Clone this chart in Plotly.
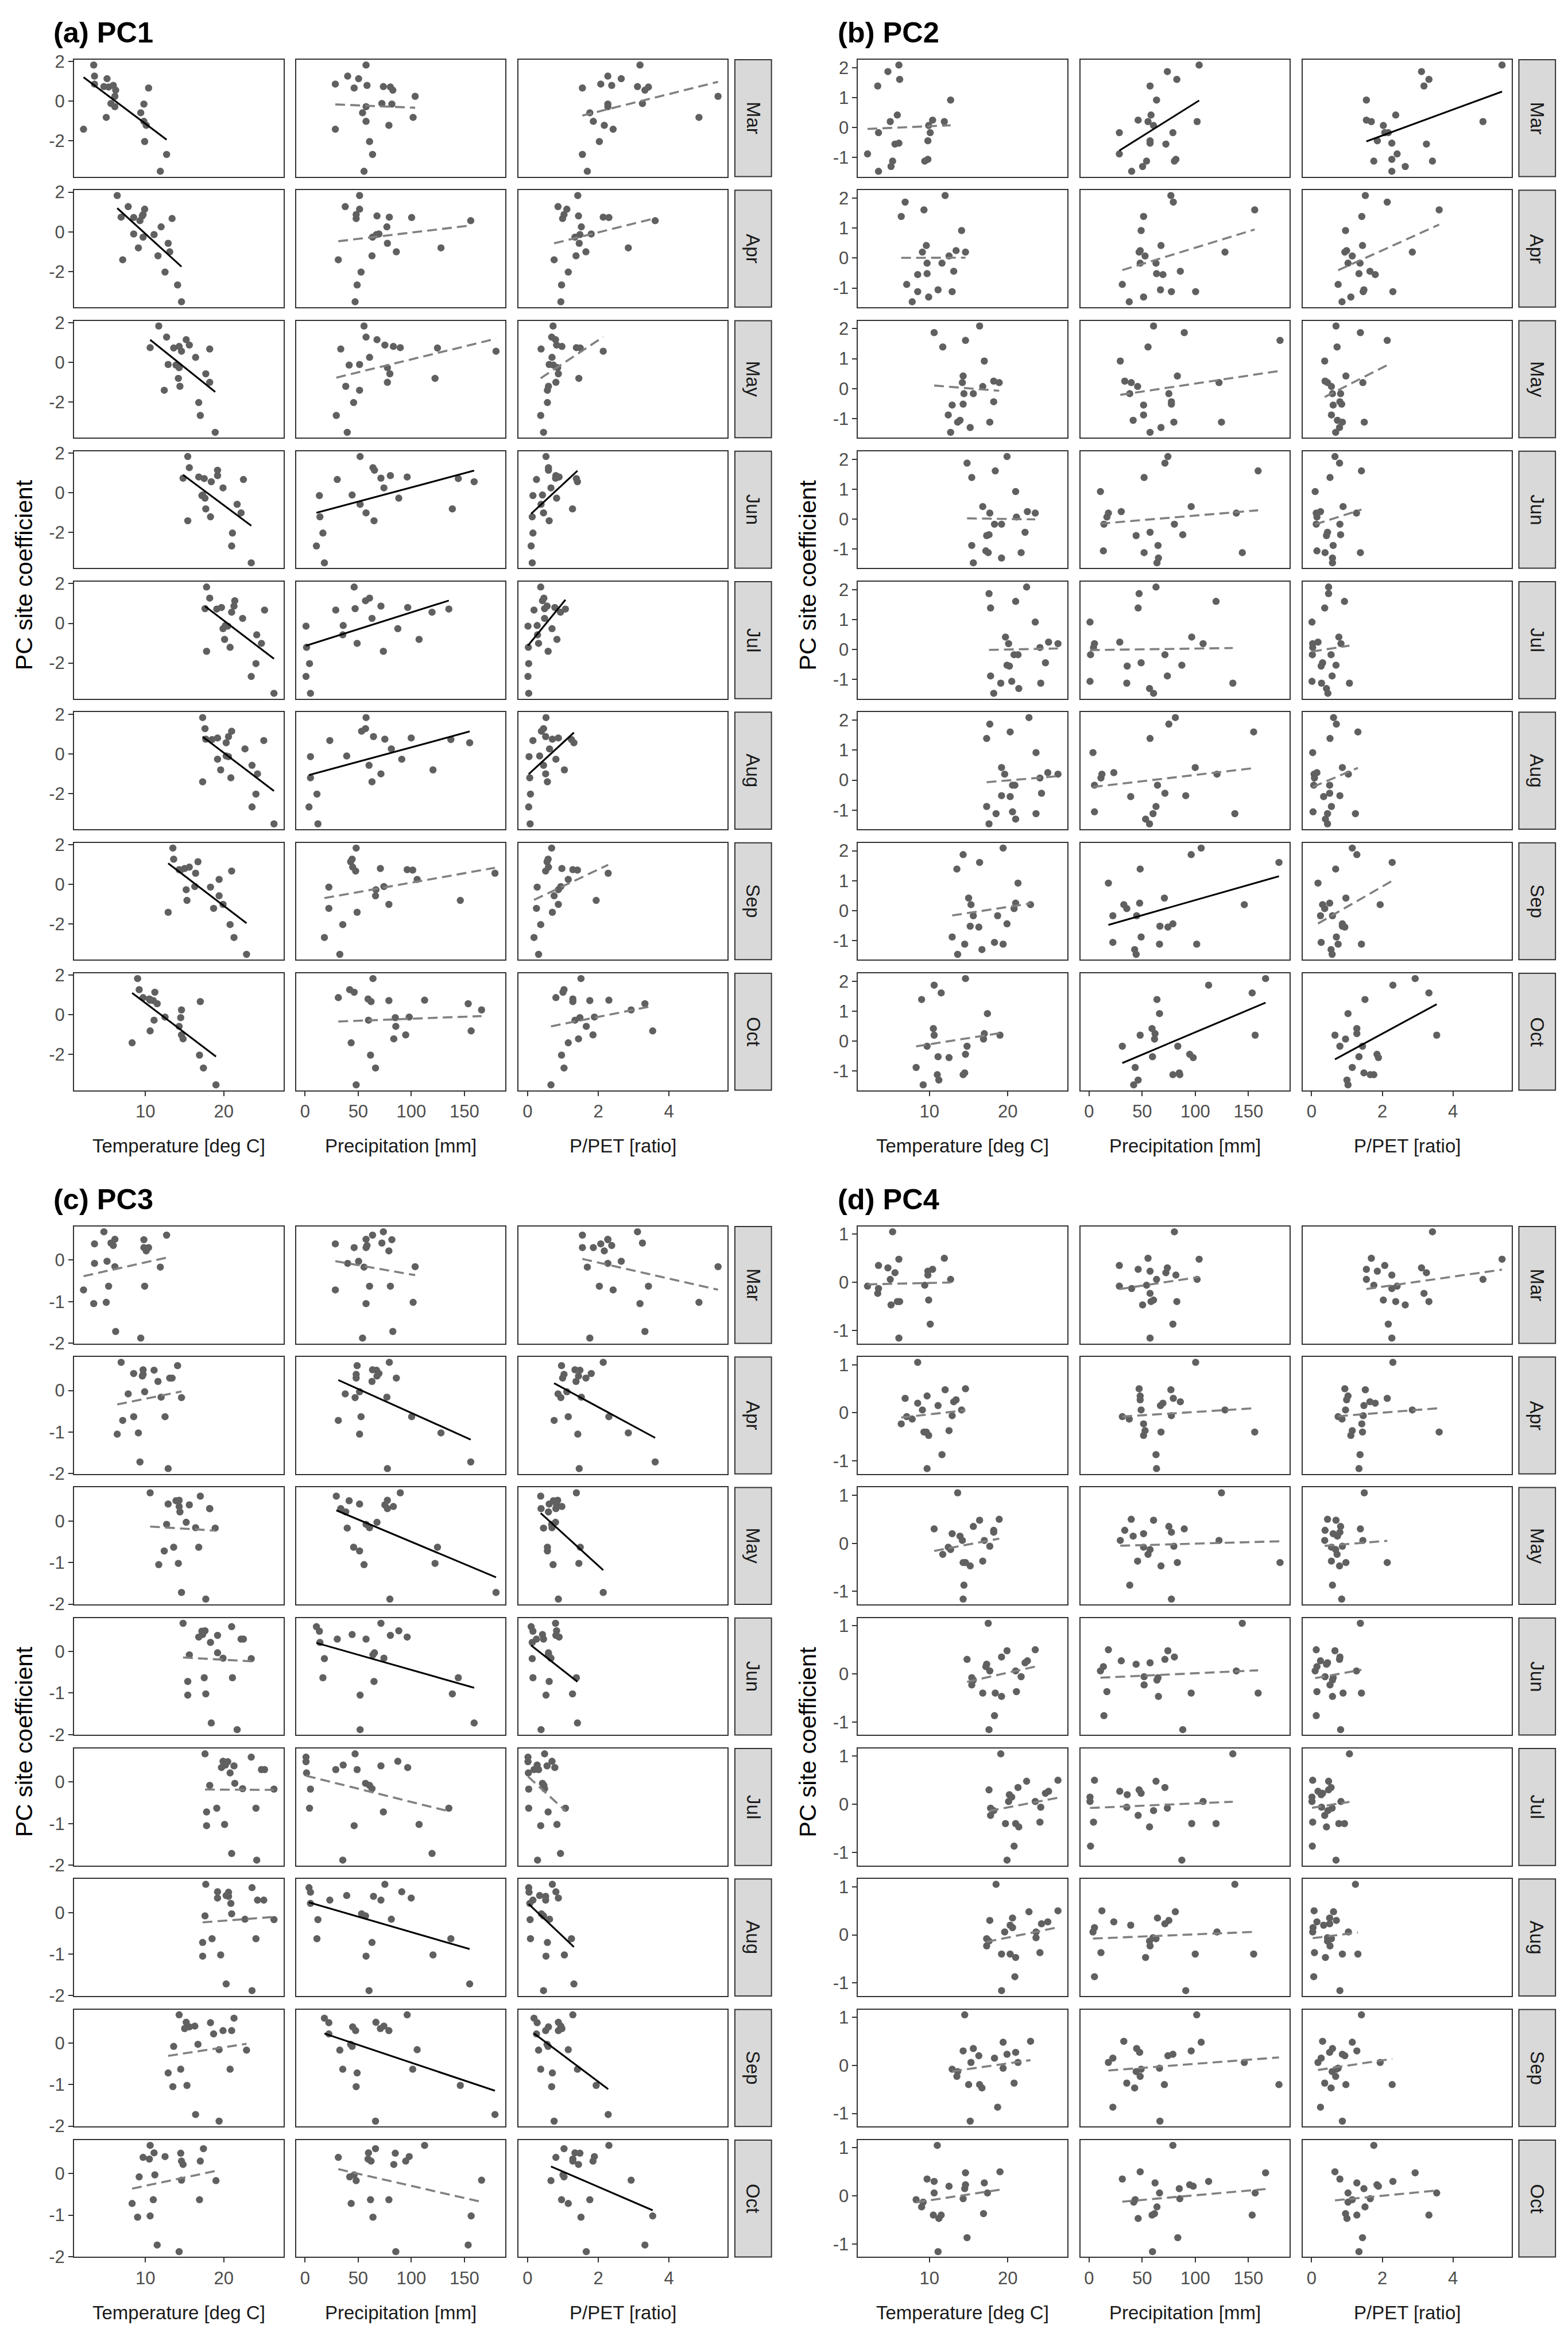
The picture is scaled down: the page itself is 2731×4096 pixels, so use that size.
import numpy as np
import plotly.graph_objects as go

# ---------------- data (21 sites, S1..S21) ----------------
months = ["Mar", "Apr", "May", "Jun", "Jul", "Aug", "Sep", "Oct"]
var_titles = ["Temperature [deg C]", "Precipitation [mm]", "P/PET [ratio]"]
panel_titles = ["(a) PC1", "(b) PC2", "(c) PC3", "(d) PC4"]

pc1 = [1.83, 1.27, 1.14, 0.87, 0.80, 0.74, 0.72, 0.67, 0.56, 0.25, -0.11,
       -0.14, -0.27, -0.58, -0.81, -1.01, -1.21, -1.41, -2.03, -2.68, -3.53]
pc2 = [1.39, -1.46, -1.30, -0.17, 0.42, 1.87, -1.12, 0.25, 1.61, 2.09, -0.55,
       -1.06, -0.52, -1.12, 0.20, -0.44, -0.17, -0.88, 0.07, 0.92, 0.20]
pc3 = [-1.05, -0.08, -0.03, 0.39, 0.35, 0.68, -0.63, 0.30, -1.72, -0.16, 0.41,
       0.49, 0.50, -1.88, -1.02, 0.30, 0.22, -0.72, -0.63, 0.60, -0.17]
pc4 = [-0.23, -0.13, -0.47, 0.35, -0.40, 0.30, 1.05, 0.27, -0.40, 0.48, 0.20,
       0.15, -1.16, -0.06, 0.06, 0.23, -0.87, -0.08, -0.37, 0.06, 0.50]

temp_mar = [3.4, 3.5, 5.1, 3.5, 5.9, 4.7, 5.3, 10.4, 6.2, 6.1, 5.6, 9.8, 6.1, 9.4, 5.0, 9.8, 10.1, 2.1, 9.9, 12.7, 11.9]
temp_apr = [6.4, 7.8, 9.9, 9.7, 9.6, 6.9, 8.5, 13.4, 9.3, 12.0, 8.5, 11.1, 9.7, 12.9, 9.1, 13.1, 11.6, 7.1, 12.5, 14.1, 14.6]
temp_may = [11.7, 12.7, 15.2, 15.6, 14.3, 10.6, 13.6, 18.2, 14.6, 16.4, 12.9, 13.9, 14.3, 17.7, 14.2, 18.2, 14.4, 12.4, 16.8, 17.0, 18.9]
temp_jun = [15.4, 15.6, 19.2, 19.2, 16.8, 14.8, 17.5, 22.5, 18.4, 19.9, 17.3, 17.2, 17.6, 21.7, 17.7, 22.2, 18.3, 15.4, 21.1, 21.0, 23.5]
temp_jul = [17.8, 18.2, 21.4, 21.3, 19.7, 17.6, 19.1, 25.2, 21.0, 22.4, 20.2, 20.5, 19.9, 24.2, 20.1, 24.8, 20.8, 17.8, 24.1, 23.5, 26.4]
temp_aug = [17.3, 17.6, 21.0, 20.6, 19.2, 17.7, 18.5, 25.1, 20.3, 22.7, 20.3, 20.6, 19.2, 23.6, 19.6, 24.3, 20.9, 17.3, 24.1, 23.6, 26.4]
temp_sep = [13.5, 13.6, 16.7, 15.6, 15.0, 14.3, 14.5, 21.0, 16.4, 19.4, 16.3, 18.3, 15.2, 19.4, 15.3, 19.9, 18.7, 12.9, 20.8, 21.3, 22.9]
temp_oct = [9.0, 9.2, 11.2, 9.7, 10.5, 10.6, 11.0, 17.0, 11.5, 14.6, 12.5, 14.5, 11.1, 14.3, 10.6, 14.6, 14.8, 8.3, 16.9, 17.4, 19.0]

precip_mar = [57.4, 40.1, 50.4, 28.5, 58.3, 73.7, 80.3, 46.2, 82.6, 103.6, 72.3, 81.7, 57.4, 54.1, 101.7, 57.4, 78.9, 28.5, 60.7, 63.5, 55.5]
precip_apr = [51.3, 37.8, 51.3, 48.1, 67.7, 79.3, 100.3, 48.1, 155.9, 77.0, 69.5, 67.2, 63.5, 77.5, 127.9, 85.9, 63.0, 31.3, 52.7, 49.0, 47.1]
precip_may = [55.5, 57.4, 67.7, 75.1, 83.1, 89.6, 124.6, 33.6, 179.7, 60.7, 51.3, 41.5, 77.5, 79.8, 122.3, 77.5, 38.3, 51.3, 45.7, 29.4, 39.7]
precip_jun = [51.8, 63.9, 65.3, 80.3, 96.1, 71.4, 144.2, 30.3, 159.1, 74.2, 44.3, 13.5, 88.2, 51.8, 138.6, 57.4, 14.0, 64.9, 16.8, 10.7, 18.2]
precip_jul = [46.2, 60.7, 56.9, 71.4, 96.6, 47.1, 135.3, 28.9, 119.5, 63.0, 35.9, 0.9, 87.3, 35.5, 107.3, 49.0, 1.4, 73.7, 4.2, 0.9, 5.1]
precip_aug = [57.4, 56.9, 53.2, 64.4, 99.9, 75.1, 137.2, 23.3, 154.9, 81.2, 39.2, 5.1, 91.0, 60.2, 120.4, 71.4, 5.1, 63.0, 11.2, 3.7, 12.1]
precip_sep = [48.1, 44.3, 42.9, 44.8, 70.9, 96.1, 101.3, 47.6, 178.7, 105.5, 74.2, 22.4, 66.7, 66.3, 146.1, 78.9, 22.4, 49.0, 35.5, 18.2, 32.7]
precip_oct = [63.9, 42.0, 46.2, 31.3, 59.3, 112.5, 78.9, 62.1, 153.5, 166.1, 98.0, 84.9, 59.7, 85.4, 156.3, 94.7, 83.5, 43.4, 61.6, 66.3, 48.1]

ppet_mar = [3.18, 2.27, 2.65, 2.07, 2.38, 3.11, 3.42, 1.55, 3.32, 5.39, 3.25, 2.27, 2.27, 1.76, 4.85, 1.86, 2.17, 2.42, 2.03, 1.55, 1.69]
ppet_apr = [1.42, 0.86, 1.11, 1.03, 1.44, 2.14, 2.30, 0.99, 3.61, 1.52, 1.80, 1.48, 1.34, 1.46, 2.85, 1.65, 1.37, 0.75, 1.15, 0.96, 0.94]
ppet_may = [0.72, 0.68, 0.79, 0.82, 0.97, 1.38, 1.49, 0.38, 2.14, 0.69, 0.61, 0.73, 0.85, 0.87, 1.45, 0.80, 0.59, 0.56, 0.56, 0.37, 0.45]
ppet_jun = [0.52, 0.59, 0.59, 0.80, 0.89, 0.79, 1.38, 0.25, 1.41, 0.66, 0.42, 0.15, 0.82, 0.38, 1.27, 0.45, 0.13, 0.61, 0.15, 0.10, 0.13]
ppet_jul = [0.37, 0.46, 0.42, 0.55, 0.77, 0.48, 1.07, 0.18, 0.93, 0.48, 0.27, 0.01, 0.69, 0.28, 0.83, 0.31, 0.02, 0.58, 0.03, 0.01, 0.03]
ppet_aug = [0.52, 0.45, 0.39, 0.51, 0.87, 0.70, 1.24, 0.15, 1.31, 0.62, 0.34, 0.04, 0.80, 0.45, 1.04, 0.51, 0.06, 0.56, 0.08, 0.03, 0.07]
ppet_sep = [0.68, 0.58, 0.55, 0.59, 0.97, 1.28, 1.41, 0.51, 2.28, 1.15, 0.94, 0.27, 0.87, 0.75, 1.94, 0.87, 0.25, 0.70, 0.37, 0.18, 0.31]
ppet_oct = [1.51, 1.03, 1.00, 0.80, 1.28, 2.30, 1.76, 1.28, 3.32, 2.93, 1.89, 1.48, 1.34, 1.66, 3.54, 1.85, 1.44, 1.15, 0.96, 1.03, 0.66]

# significance of the linear fit per month: T, P, R  (S = significant / solid, N = dashed)
sig_pc1 = ["SNN", "SNN", "SNN", "SSS", "SSS", "SSS", "SNN", "SNN"]
sig_pc2 = ["NSS", "NNN", "NNN", "NNN", "NNN", "NNN", "NSN", "NSS"]
sig_pc3 = ["NNN", "NSS", "NSS", "NSS", "NNN", "NSS", "NSS", "NNS"]
sig_pc4 = ["NNN", "NNN", "NNN", "NNN", "NNN", "NNN", "NNN", "NNN"]

x_ticks = [[10, 20], [0, 50, 100, 150], [0, 2, 4]]
y_ticks = [[-2, 0, 2], [-1, 0, 1, 2], [-2, -1, 0], [-1, 0, 1]]

# ---------------- assemble ----------------
temps = [temp_mar, temp_apr, temp_may, temp_jun, temp_jul, temp_aug, temp_sep, temp_oct]
precs = [precip_mar, precip_apr, precip_may, precip_jun, precip_jul, precip_aug, precip_sep, precip_oct]
ppets = [ppet_mar, ppet_apr, ppet_may, ppet_jun, ppet_jul, ppet_aug, ppet_sep, ppet_oct]
xvars = [temps, precs, ppets]
pcs = [pc1, pc2, pc3, pc4]
sigs = [sig_pc1, sig_pc2, sig_pc3, sig_pc4]


def expand(vals):
    lo, hi = min(vals), max(vals)
    d = (hi - lo) * 0.05
    return [lo - d, hi + d]


x_ranges = [expand([v for m in xv for v in m]) for xv in xvars]
y_ranges = [expand(p) for p in pcs]

W, H = 2731, 4096
REFW, REFH = 3000.0, 4500.0
FONT = "Liberation Sans, Arial, Helvetica, sans-serif"


def fx(x):
    return x / REFW


def fy(y):
    return 1 - y / REFH


col_x = [(141.6, 542.4), (567.3, 967.2), (992.0, 1392.0)]
strip_x = (1406.0, 1476.0)
row_top0, row_pitch, row_h = 99.6, 251.6, 225.4
panel_off = [(0, 0), (1500, 0), (0, 2249.4), (1500, 2249.4)]

POINT = "#606060"
EDGE = "#333333"
fig = go.Figure()
layout = dict(
    width=W, height=H, margin=dict(l=0, r=0, t=0, b=0, pad=0),
    paper_bgcolor="white", plot_bgcolor="white", showlegend=False,
    font=dict(family=FONT, color="#1A1A1A"),
)
shapes, annotations = [], []

for p in range(4):
    ox, oy = panel_off[p]
    yv = pcs[p]
    for r in range(8):
        top = oy + row_top0 + row_pitch * r
        bot = top + row_h
        for c in range(3):
            n = p * 24 + r * 3 + c + 1
            xa, ya = f"xaxis{n}", f"yaxis{n}"
            x0, x1 = col_x[c]
            xv = xvars[c][r]
            layout[xa] = dict(
                domain=[fx(ox + x0), fx(ox + x1)], anchor=f"y{n}",
                range=x_ranges[c], showline=True, linecolor=EDGE, linewidth=2,
                mirror=True, showgrid=False, zeroline=False,
                ticks="outside" if r == 7 else "", ticklen=8, tickwidth=2, tickcolor=EDGE,
                showticklabels=(r == 7), tickvals=x_ticks[c],
                ticktext=[str(t) for t in x_ticks[c]],
                tickfont=dict(size=31, color="#4D4D4D", family=FONT),
            )
            layout[ya] = dict(
                domain=[fy(bot), fy(top)], anchor=f"x{n}",
                range=y_ranges[p], showline=True, linecolor=EDGE, linewidth=2,
                mirror=True, showgrid=False, zeroline=False,
                ticks="outside" if c == 0 else "", ticklen=8, tickwidth=2, tickcolor=EDGE,
                showticklabels=(c == 0), tickvals=y_ticks[p],
                ticktext=[str(t) for t in y_ticks[p]],
                tickfont=dict(size=31, color="#4D4D4D", family=FONT),
            )
            fig.add_trace(go.Scatter(
                x=xv, y=yv, mode="markers", xaxis=f"x{n}", yaxis=f"y{n}",
                marker=dict(size=12.5, color=POINT, line=dict(width=0)),
                hoverinfo="skip"))
            k, b = np.polyfit(np.array(xv), np.array(yv), 1)
            xs = [min(xv), max(xv)]
            ys = [k * xs[0] + b, k * xs[1] + b]
            solid = sigs[p][r][c] == "S"
            fig.add_trace(go.Scatter(
                x=xs, y=ys, mode="lines", xaxis=f"x{n}", yaxis=f"y{n}",
                line=dict(color="black" if solid else "#808080",
                          width=3.1 if solid else 3.6,
                          dash="solid" if solid else "17px,9px"),
                hoverinfo="skip"))
        # strip
        shapes.append(dict(type="rect", xref="paper", yref="paper",
                           x0=fx(ox + strip_x[0]), x1=fx(ox + strip_x[1]),
                           y0=fy(bot), y1=fy(top), fillcolor="#D9D9D9",
                           line=dict(color=EDGE, width=2), layer="below"))
        annotations.append(dict(xref="paper", yref="paper",
                                x=fx(ox + (strip_x[0] + strip_x[1]) / 2), y=fy((top + bot) / 2),
                                text=months[r], textangle=90, showarrow=False,
                                xanchor="center", yanchor="middle",
                                font=dict(size=33, color="#1A1A1A", family=FONT)))
    # panel title
    annotations.append(dict(xref="paper", yref="paper", x=fx(ox + 100), y=fy(oy + 47),
                            text="<b>" + panel_titles[p] + "</b>", showarrow=False,
                            xanchor="left", yanchor="middle",
                            font=dict(size=50.5, color="black", family=FONT)))
    # y title
    yc = oy + row_top0 + (row_pitch * 7 + row_h) / 2
    annotations.append(dict(xref="paper", yref="paper", x=fx(ox + 45), y=fy(yc),
                            text="PC site coefficient", textangle=-90, showarrow=False,
                            xanchor="center", yanchor="middle",
                            font=dict(size=41.5, color="black", family=FONT)))
    # x titles
    for c in range(3):
        annotations.append(dict(xref="paper", yref="paper",
                                x=fx(ox + (col_x[c][0] + col_x[c][1]) / 2), y=fy(oy + 2194),
                                text=var_titles[c], showarrow=False,
                                xanchor="center", yanchor="middle",
                                font=dict(size=33, color="#1A1A1A", family=FONT)))

layout["shapes"] = shapes
layout["annotations"] = annotations
fig.update_layout(**layout)
fig.write_html("out.html")
